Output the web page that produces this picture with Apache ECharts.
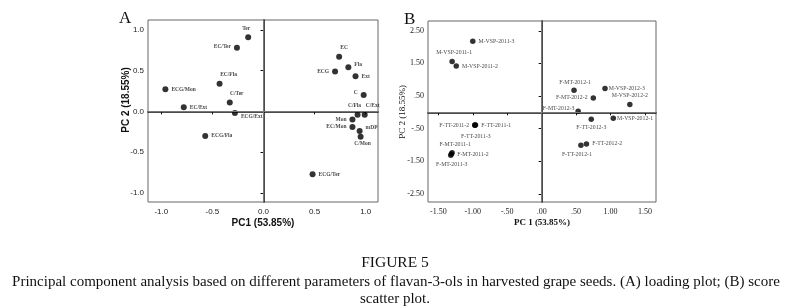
<!DOCTYPE html>
<html>
<head>
<meta charset="utf-8">
<script src="https://cdn.jsdelivr.net/npm/echarts@6/dist/echarts.min.js"></script>
<style>
  html, body { margin: 0; padding: 0; background: #fff; }
  #main { width: 791px; height: 308px; }
</style>
</head>
<body>
<div id="main"></div>
<script>
// (A) loading plot
const loadNames = ['Ter', 'EC/Ter', 'EC', 'Fla', 'ECG', 'Ext', 'EC/Fla', 'ECG/Mon', 'C', 'C/Ter',
  'EC/Ext', 'ECG/Ext', 'C/Fla', 'C/Ext', 'Mon', 'EC/Mon', 'mDP', 'C/Mon', 'ECG/Fla', 'ECG/Ter']
const loadPC1 = [-0.15, -0.26, 0.74, 0.83, 0.70, 0.90, -0.43, -0.96, 0.98, -0.33,
  -0.78, -0.28, 0.92, 0.99, 0.87, 0.87, 0.94, 0.95, -0.57, 0.48]
const loadPC2 = [0.91, 0.78, 0.67, 0.54, 0.49, 0.43, 0.34, 0.27, 0.20, 0.11,
  0.05, -0.02, -0.04, -0.04, -0.10, -0.19, -0.24, -0.31, -0.30, -0.77]

// (B) score scatter plot
const scoreNames = ['M-VSP-2011-3', 'M-VSP-2011-1', 'M-VSP-2011-2', 'F-MT-2012-1', 'M-VSP-2012-3',
  'F-MT-2012-2', 'M-VSP-2012-2', 'F-MT-2012-3', 'F-TT-2012-3', 'M-VSP-2012-1',
  'F-TT-2011-1', 'F-TT-2011-2', 'F-TT-2011-3', 'F-MT-2011-1', 'F-MT-2011-2', 'F-MT-2011-3',
  'F-TT-2012-1', 'F-TT-2012-2']
const scorePC1 = [-1.00, -1.30, -1.24, 0.47, 0.92, 0.75, 1.28, 0.53, 0.72, 1.04,
  -0.96, -0.97, -0.97, -1.30, -1.31, -1.32, 0.57, 0.65]
const scorePC2 = [2.18, 1.56, 1.42, 0.68, 0.73, 0.44, 0.24, 0.03, -0.21, -0.18,
  -0.39, -0.39, -0.40, -1.24, -1.28, -1.32, -1.01, -0.97]

const ticksA = [-1.0, -0.5, 0.0, 0.5, 1.0]
const ticksBx = [-1.5, -1.0, -0.5, 0.0, 0.5, 1.0, 1.5]
const ticksBy = [-2.5, -1.5, -0.5, 0.5, 1.5, 2.5]

// where each label sits relative to its point
const labelPosA = {
  'Ter': ['top', -2, 0], 'EC/Ter': ['left', 0, -1], 'EC': ['top', 5, 0], 'Fla': ['right', 0, -3],
  'ECG': ['left', 0, 0], 'Ext': ['right', 0, 0], 'EC/Fla': ['top', 9, 0], 'ECG/Mon': ['right', 0, 0],
  'C': ['left', 0, -3], 'C/Ter': ['top', 7, 0], 'EC/Ext': ['right', 0, 0], 'ECG/Ext': ['right', 0, 4],
  'C/Fla': ['top', -3, 0], 'C/Ext': ['top', 8, 0], 'Mon': ['left', 0, 0], 'EC/Mon': ['left', 0, 0],
  'mDP': ['right', 0, -3], 'C/Mon': ['bottom', 2, -2], 'ECG/Fla': ['right', 0, 0], 'ECG/Ter': ['right', 0, 0]
}
const labelPosB = {
  'M-VSP-2011-3': ['right', 0, 0], 'M-VSP-2011-1': ['top', 2, 0], 'M-VSP-2011-2': ['right', 0, 0],
  'F-MT-2012-1': ['top', 1, 1], 'M-VSP-2012-3': ['right', -2, 0], 'F-MT-2012-2': ['left', 0, 0],
  'M-VSP-2012-2': ['top', 0, 0], 'F-MT-2012-3': ['left', 2, -3], 'F-TT-2012-3': ['bottom', 0, 0],
  'M-VSP-2012-1': ['right', -2, 0], 'F-TT-2011-1': ['right', 0, 0], 'F-TT-2011-2': ['left', 0, 0],
  'F-TT-2011-3': ['bottom', 1, 2], 'F-MT-2011-1': ['top', 3, 0], 'F-MT-2011-2': ['right', 0, 0],
  'F-MT-2011-3': ['bottom', 1, 0], 'F-TT-2012-1': ['bottom', -4, 0], 'F-TT-2012-2': ['right', 0, 0]
}

function buildPoints (names, xs, ys, pos, weight, size) {
  return names.map((n, i) => ({
    name: n,
    value: [xs[i], ys[i]],
    label: {
      show: true,
      formatter: n,
      position: pos[n][0],
      offset: [pos[n][1], pos[n][2]],
      distance: 3,
      color: '#111',
      fontFamily: 'Liberation Serif',
      fontSize: size,
      fontWeight: weight
    }
  }))
}

const zeroLines = {
  silent: true,
  symbol: 'none',
  label: { show: false },
  lineStyle: { color: '#777', width: 1, type: 'solid' },
  data: [{ xAxis: 0 }, { yAxis: 0 }]
}

const fmtB = v => v.toFixed(2).replace(/^(-?)0\./, '$1.')

const sansTick = { fontFamily: 'Liberation Sans', fontSize: 8, color: '#222' }
const serifTick = { fontFamily: 'Liberation Serif', fontSize: 8, color: '#222' }

const dom = document.getElementById('main')
const myChart = echarts.init(dom, null, { renderer: 'canvas' })

const option = {
  animation: false,
  backgroundColor: '#fff',
  grid: [
    { left: 148, top: 20, width: 230, height: 182, show: true, borderColor: '#666', borderWidth: 1 },
    { left: 428, top: 21, width: 228, height: 181, show: true, borderColor: '#666', borderWidth: 1 }
  ],
  xAxis: [
    {
      gridIndex: 0, type: 'value', min: -1.13, max: 1.12,
      axisLine: { lineStyle: { color: '#111', width: 1.5 } },
      axisTick: { customValues: ticksA, length: 3, lineStyle: { color: '#111' } },
      axisLabel: Object.assign({ customValues: ticksA, formatter: v => v.toFixed(1), margin: 6 }, sansTick),
      splitLine: { show: false }
    },
    {
      gridIndex: 1, type: 'value', min: -1.65, max: 1.66,
      axisLine: { lineStyle: { color: '#111', width: 1.5 } },
      axisTick: { customValues: ticksBx, length: 3, lineStyle: { color: '#111' } },
      axisLabel: Object.assign({ customValues: ticksBx, formatter: fmtB, margin: 6 }, serifTick),
      splitLine: { show: false }
    }
  ],
  yAxis: [
    {
      gridIndex: 0, type: 'value', min: -1.11, max: 1.12,
      axisLine: { lineStyle: { color: '#111', width: 1.5 } },
      axisTick: { customValues: ticksA, length: 3, lineStyle: { color: '#111' } },
      axisLabel: Object.assign({ customValues: ticksA, formatter: v => v.toFixed(1), margin: 4 }, sansTick),
      splitLine: { show: false }
    },
    {
      gridIndex: 1, type: 'value', min: -2.75, max: 2.80,
      axisLine: { lineStyle: { color: '#111', width: 1.5 } },
      axisTick: { customValues: ticksBy, length: 3, lineStyle: { color: '#111' } },
      axisLabel: Object.assign({ customValues: ticksBy, formatter: fmtB, margin: 4 }, serifTick),
      splitLine: { show: false }
    }
  ],
  series: [
    {
      name: 'loading',
      type: 'scatter',
      xAxisIndex: 0,
      yAxisIndex: 0,
      symbolSize: 6,
      itemStyle: { color: '#000' },
      data: buildPoints(loadNames, loadPC1, loadPC2, labelPosA, 'bold', 5.5),
      markLine: zeroLines,
      z: 3
    },
    {
      name: 'score',
      type: 'scatter',
      xAxisIndex: 1,
      yAxisIndex: 1,
      symbolSize: 5.5,
      itemStyle: { color: '#000' },
      data: buildPoints(scoreNames, scorePC1, scorePC2, labelPosB, 'normal', 5.8),
      markLine: zeroLines,
      z: 3
    }
  ],
  graphic: [
    { type: 'text', left: 119, top: 10, style: { text: 'A', font: '17px "Liberation Serif"', fill: '#111' } },
    { type: 'text', left: 404, top: 11, style: { text: 'B', font: '17px "Liberation Serif"', fill: '#111' } },
    {
      type: 'text', x: 263, y: 223,
      style: { text: 'PC1 (53.85%)', font: 'bold 10px "Liberation Sans"', fill: '#111', align: 'center', verticalAlign: 'middle' }
    },
    {
      type: 'text', x: 126, y: 100, rotation: Math.PI / 2,
      style: { text: 'PC 2 (18.55%)', font: 'bold 10px "Liberation Sans"', fill: '#111', align: 'center', verticalAlign: 'middle' }
    },
    {
      type: 'text', x: 542, y: 223,
      style: { text: 'PC 1 (53.85%)', font: 'bold 9px "Liberation Serif"', fill: '#111', align: 'center', verticalAlign: 'middle' }
    },
    {
      type: 'text', x: 403, y: 112, rotation: Math.PI / 2,
      style: { text: 'PC 2 (18.55%)', font: '9px "Liberation Serif"', fill: '#111', align: 'center', verticalAlign: 'middle' }
    },
    {
      type: 'text', x: 395, y: 263,
      style: { text: 'FIGURE 5', font: '15.5px "Liberation Serif"', fill: '#111', align: 'center', verticalAlign: 'middle' }
    },
    {
      type: 'text', x: 396, y: 282,
      style: {
        text: 'Principal component analysis based on different parameters of flavan-3-ols in harvested grape seeds. (A) loading plot; (B) score',
        font: '15px "Liberation Serif"', fill: '#111', align: 'center', verticalAlign: 'middle'
      }
    },
    {
      type: 'text', x: 395, y: 299,
      style: { text: 'scatter plot.', font: '15px "Liberation Serif"', fill: '#111', align: 'center', verticalAlign: 'middle' }
    }
  ]
}

myChart.setOption(option)
</script>
</body>
</html>
